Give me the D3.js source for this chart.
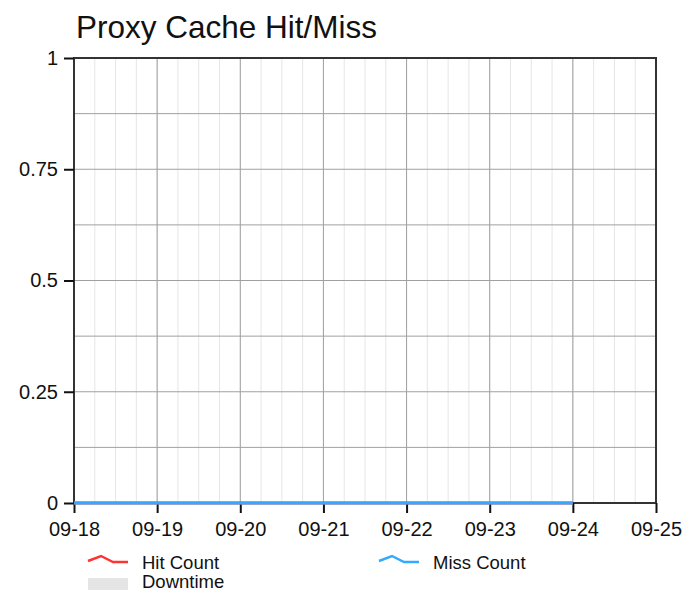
<!DOCTYPE html>
<html>
<head>
<meta charset="utf-8">
<script src="https://cdn.jsdelivr.net/npm/d3@7"></script>
<style>
	body { margin: 0; background: #fff; }
	svg { font-family: "Liberation Sans", Arial, sans-serif; }
</style>
</head>
<body>
<div id="mainWrapper"><svg width="686" height="590"></svg></div>
<script>

// データ
var title = "Proxy Cache Hit/Miss";
var days = ["2019-09-18", "2019-09-19", "2019-09-20", "2019-09-21", "2019-09-22", "2019-09-23", "2019-09-24", "2019-09-25"];
var sampleDays = ["2019-09-18", "2019-09-19", "2019-09-20", "2019-09-21", "2019-09-22", "2019-09-23", "2019-09-24"];
var hitCount = [0, 0, 0, 0, 0, 0, 0];
var missCount = [0, 0, 0, 0, 0, 0, 0];
var yTicks = [0, 0.25, 0.5, 0.75, 1];
var seriesNames = ["Hit Count", "Miss Count"];
var seriesColors = ["#ff3333", "#33aaff"];

var parse = d3.timeParse("%Y-%m-%d");

var svg = d3.select("#mainWrapper>svg");

//描画範囲
var mLeft = 74, mRight = 656, mTop = 58, mBottom = 503;

var x = d3.scaleTime()
	.domain([parse(days[0]), parse(days[days.length - 1])])
	.range([mLeft, mRight]);

var y = d3.scaleLinear()
	.domain([0, 1])
	.range([mBottom, mTop]);

//タイトル
svg.append("text")
	.attr("x", 76)
	.attr("y", 38)
	.attr("font-size", "31.5px")
	.attr("fill", "#111")
	.text(title);

//グリッド
var grid = svg.append("g");

//6時間ごとの細い線
var minor = d3.timeHour.every(6).range(parse(days[0]), parse(days[days.length - 1]));
grid.selectAll("line.minor")
	.data(minor)
	.enter()
	.append("line")
	.attr("class", "minor")
	.attr("x1", function(d){ return x(d); })
	.attr("x2", function(d){ return x(d); })
	.attr("y1", mTop)
	.attr("y2", mBottom)
	.attr("stroke", "#e6e6e6")
	.attr("stroke-width", 1);

grid.selectAll("line.major")
	.data(days.map(parse))
	.enter()
	.append("line")
	.attr("class", "major")
	.attr("x1", function(d){ return x(d); })
	.attr("x2", function(d){ return x(d); })
	.attr("y1", mTop)
	.attr("y2", mBottom)
	.attr("stroke", "#a0a0a0")
	.attr("stroke-width", 1);

grid.selectAll("line.h")
	.data(d3.range(0, 1.0001, 0.125))
	.enter()
	.append("line")
	.attr("class", "h")
	.attr("x1", mLeft)
	.attr("x2", mRight)
	.attr("y1", function(d){ return y(d); })
	.attr("y2", function(d){ return y(d); })
	.attr("stroke", "#a0a0a0")
	.attr("stroke-width", 1);

//枠
svg.append("rect")
	.attr("x", mLeft)
	.attr("y", mTop)
	.attr("width", mRight - mLeft)
	.attr("height", mBottom - mTop)
	.attr("fill", "none")
	.attr("stroke", "#333")
	.attr("stroke-width", 2);

//軸
var xAxis = d3.axisBottom(x)
	.tickValues(days.map(parse))
	.tickFormat(d3.timeFormat("%m-%d"))
	.tickSizeInner(10)
	.tickSizeOuter(0)
	.tickPadding(9);

var gx = svg.append("g")
	.attr("transform", "translate(0," + mBottom + ")")
	.call(xAxis);
gx.select(".domain").remove();
gx.selectAll("line").attr("stroke", "#111").attr("stroke-width", 2);
gx.selectAll("text")
	.attr("font-size", "20px")
	.attr("font-family", "Liberation Sans, Arial, sans-serif")
	.attr("fill", "#111");

var yAxis = d3.axisLeft(y)
	.tickValues(yTicks)
	.tickFormat(function(d){ return String(d); })
	.tickSizeInner(10)
	.tickSizeOuter(0)
	.tickPadding(6);

var gy = svg.append("g")
	.attr("transform", "translate(" + mLeft + ",0)")
	.call(yAxis);
gy.select(".domain").remove();
gy.selectAll("line").attr("stroke", "#111").attr("stroke-width", 2);
gy.selectAll("text")
	.attr("font-size", "20px")
	.attr("font-family", "Liberation Sans, Arial, sans-serif")
	.attr("fill", "#111");

//系列
var line = d3.line()
	.x(function(d){ return x(d[0]); })
	.y(function(d){ return y(d[1]); });

[hitCount, missCount].forEach(function(vals, i){
	var pts = sampleDays.map(function(d, j){ return [parse(d), vals[j]]; });
	svg.append("path")
		.datum(pts)
		.attr("d", line)
		.attr("fill", "none")
		.attr("stroke", seriesColors[i])
		.attr("stroke-width", 3);
});

//凡例
var legend = svg.append("g");
var icon = "M0,5 L13,0 L25,6 L40,6";
var legendPos = [[88, 556], [379, 556]];

seriesNames.forEach(function(name, i){
	var g = legend.append("g")
		.attr("transform", "translate(" + legendPos[i][0] + "," + legendPos[i][1] + ")");
	g.append("path")
		.attr("d", icon)
		.attr("fill", "none")
		.attr("stroke", seriesColors[i])
		.attr("stroke-width", 2.5);
	g.append("text")
		.attr("x", 54)
		.attr("y", 13)
		.attr("font-size", "18.5px")
		.attr("fill", "#111")
		.text(name);
});

var dt = legend.append("g").attr("transform", "translate(88,578)");
dt.append("rect")
	.attr("width", 40)
	.attr("height", 12)
	.attr("fill", "#e5e5e5");
dt.append("text")
	.attr("x", 54)
	.attr("y", 10)
	.attr("font-size", "18.5px")
	.attr("fill", "#111")
	.text("Downtime");

</script>
</body>
</html>
